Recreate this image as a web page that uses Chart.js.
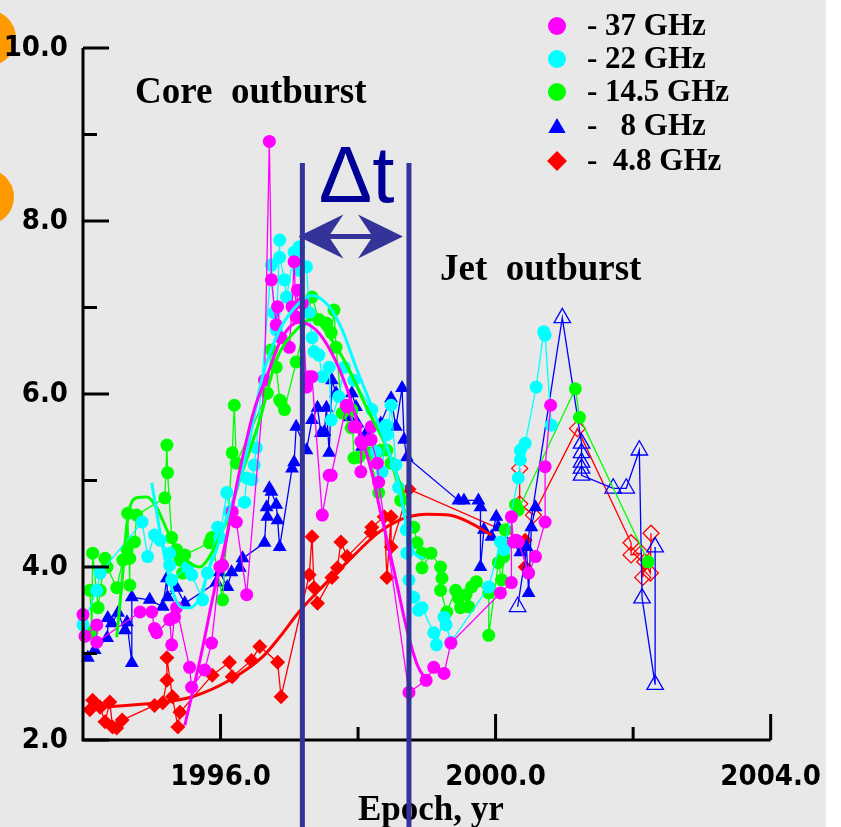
<!DOCTYPE html>
<html>
<head>
<meta charset="utf-8">
<title>Core and jet outburst light curves</title>
<script src="https://cdn.jsdelivr.net/npm/chart.js@4.4.1/dist/chart.umd.min.js"></script>
<style>
  html, body { margin: 0; padding: 0; background: #ffffff; }
  canvas { display: block; }
</style>
</head>
<body>
<canvas id="myCanvas" width="841" height="827"></canvas>
<script>
// flux density (Jy) vs epoch (yr)
const ghz37 = [
  [1994.00, 3.45], [1994.03, 3.20], [1994.20, 3.33], [1994.20, 3.13], [1994.83, 3.48],
  [1995.00, 3.48], [1995.04, 3.29], [1995.07, 3.24], [1995.26, 3.39], [1995.29, 3.10],
  [1995.33, 3.42], [1995.36, 3.53], [1995.55, 2.84], [1995.58, 2.61], [1995.77, 2.81],
  [1995.87, 3.12], [1995.99, 4.00], [1996.03, 4.02], [1996.17, 4.64], [1996.23, 4.52],
  [1996.38, 3.68], [1996.64, 6.16], [1996.71, 8.92], [1996.74, 7.32], [1996.81, 6.80],
  [1996.83, 7.01], [1996.88, 6.65], [1997.00, 6.54], [1997.04, 7.01], [1997.07, 7.53],
  [1997.10, 6.89], [1997.12, 7.20], [1997.19, 7.05], [1997.25, 6.08], [1997.29, 6.20],
  [1997.33, 6.20], [1997.48, 4.60], [1997.58, 5.06], [1997.61, 5.06], [1997.83, 5.87],
  [1997.84, 5.85], [1997.94, 5.62], [1997.97, 5.62], [1998.04, 5.45], [1998.04, 5.10],
  [1998.06, 5.43], [1998.19, 5.62], [1998.19, 5.47], [1998.28, 5.20], [1998.30, 4.98],
  [1998.74, 2.55], [1998.99, 2.69], [1999.10, 2.84], [1999.25, 2.77], [1999.35, 3.12],
  [2000.07, 3.70], [2000.23, 3.82], [2000.23, 4.58], [2000.26, 4.29], [2000.30, 4.31],
  [2000.33, 4.29], [2000.48, 3.93], [2000.58, 4.12], [2000.72, 4.52], [2000.72, 5.16],
  [2000.80, 5.87]
];

const ghz22 = [
  [1994.00, 3.33], [1994.20, 3.73], [1994.25, 3.93], [1994.86, 4.52], [1994.94, 4.12],
  [1995.04, 4.37], [1995.12, 4.31], [1995.26, 4.16], [1995.26, 4.02], [1995.29, 3.85],
  [1995.52, 4.00], [1995.58, 3.91], [1995.74, 3.62], [1995.81, 3.93], [1995.96, 4.46],
  [1995.99, 4.34], [1996.09, 4.86], [1996.13, 4.64], [1996.35, 4.75], [1996.38, 5.03],
  [1996.46, 5.01], [1996.49, 5.18], [1996.52, 5.38], [1996.74, 7.49], [1996.78, 6.94],
  [1996.81, 6.74], [1996.86, 7.78], [1996.86, 7.58], [1996.93, 7.32], [1996.96, 7.12],
  [1997.07, 7.64], [1997.14, 7.70], [1997.14, 7.43], [1997.25, 7.47], [1997.29, 6.94],
  [1997.33, 6.65], [1997.36, 6.49], [1997.43, 6.45], [1997.48, 6.20], [1997.58, 6.31],
  [1997.61, 5.70], [1997.72, 5.97], [1997.80, 6.31], [1997.94, 6.16], [1998.20, 5.82],
  [1998.26, 5.33], [1998.35, 5.10], [1998.41, 5.64], [1998.42, 5.53], [1998.48, 5.87],
  [1998.55, 5.18], [1998.59, 4.92], [1998.70, 4.43], [1998.71, 4.16], [1998.74, 3.85],
  [1998.81, 3.65], [1998.88, 3.50], [1998.93, 3.53], [1999.10, 3.24], [1999.14, 3.10],
  [1999.25, 3.42], [1999.28, 3.33], [1999.35, 3.13], [1999.90, 3.77], [2000.07, 4.29],
  [2000.12, 4.20], [2000.33, 5.03], [2000.36, 5.24], [2000.36, 5.35], [2000.43, 5.43],
  [2000.59, 6.08], [2000.70, 6.72], [2000.72, 6.68], [2000.81, 5.64]
];

const ghz14 = [
  [1994.10, 3.73], [1994.13, 3.25], [1994.14, 4.16], [1994.22, 3.53], [1994.25, 3.73],
  [1994.32, 4.10], [1994.35, 4.00], [1994.49, 3.76], [1994.58, 4.08], [1994.64, 4.20],
  [1994.65, 4.62], [1994.68, 3.79], [1994.68, 4.10], [1994.75, 4.29], [1994.78, 4.60],
  [1995.19, 4.80], [1995.22, 5.41], [1995.23, 5.09], [1995.29, 4.34], [1995.36, 4.20],
  [1995.41, 4.08], [1995.45, 3.93], [1995.48, 4.14], [1995.84, 4.28], [1995.87, 4.34],
  [1996.03, 3.62], [1996.17, 5.32], [1996.20, 5.87], [1996.23, 5.20], [1996.68, 6.01],
  [1996.74, 6.51], [1996.81, 6.31], [1996.86, 5.93], [1996.88, 5.91], [1996.93, 5.82],
  [1997.10, 6.37], [1997.33, 7.12], [1997.43, 6.86], [1997.54, 6.82], [1997.61, 6.71],
  [1997.65, 6.97], [1997.68, 6.54], [1997.77, 5.78], [1997.90, 5.61], [1997.91, 5.82],
  [1997.94, 5.26], [1998.01, 5.27], [1998.16, 5.32], [1998.30, 4.86], [1998.33, 5.35],
  [1998.42, 5.35], [1998.48, 5.20], [1998.62, 4.77], [1998.81, 4.46], [1998.86, 4.28],
  [1998.93, 4.16], [1998.93, 3.99], [1999.06, 4.16], [1999.20, 4.00], [1999.22, 3.87],
  [1999.20, 3.73], [1999.29, 3.48], [1999.42, 3.73], [1999.46, 3.64], [1999.49, 3.53],
  [1999.57, 3.68], [1999.61, 3.54], [1999.65, 3.77], [1999.72, 3.83], [1999.90, 3.70],
  [1999.90, 3.21], [2000.04, 4.05], [2000.09, 3.85], [2000.12, 4.12], [2000.14, 4.25],
  [2000.14, 4.43], [2000.29, 4.72], [2000.33, 4.66], [2001.16, 6.06], [2001.22, 5.73],
  [2002.22, 4.06]
];

const ghz8 = [
  [1994.07, 2.95], [1994.17, 3.04], [1994.35, 3.18], [1994.36, 3.41], [1994.42, 3.35],
  [1994.51, 3.47], [1994.61, 3.27], [1994.64, 3.36], [1994.71, 2.89], [1994.71, 3.65],
  [1994.97, 3.62], [1995.16, 3.54], [1995.22, 3.87], [1995.23, 3.65], [1995.36, 3.76],
  [1995.48, 3.58], [1995.94, 3.82], [1995.99, 3.94], [1996.10, 3.77], [1996.16, 3.94],
  [1996.28, 3.99], [1996.32, 4.10], [1996.64, 4.28], [1996.67, 4.69], [1996.68, 4.58],
  [1996.71, 4.91], [1996.74, 4.87], [1996.81, 4.72], [1996.83, 4.54], [1996.86, 4.23],
  [1997.04, 5.14], [1997.07, 5.21], [1997.10, 5.62], [1997.25, 5.35], [1997.33, 5.70],
  [1997.41, 5.84], [1997.46, 5.55], [1997.51, 5.56], [1997.54, 5.84], [1997.58, 5.32],
  [1997.62, 6.16], [1997.68, 6.01], [1997.87, 5.73], [1997.91, 6.01], [1997.97, 5.85],
  [1997.99, 5.66], [1998.06, 5.39], [1998.12, 5.55], [1998.33, 5.66], [1998.48, 5.95],
  [1998.55, 5.62], [1998.64, 6.07], [1998.67, 5.47], [1998.71, 5.27], [1999.46, 4.77],
  [1999.54, 4.77], [1999.75, 4.77], [1999.78, 4.69], [1999.78, 4.00], [1999.83, 4.43],
  [1999.94, 4.35], [2000.01, 4.58], [2000.04, 4.46], [2000.36, 4.17], [2000.45, 4.23],
  [2000.48, 3.70], [2000.52, 4.46], [2000.58, 4.69]
];

const ghz8Late = [
  [2000.32, 3.54], [2000.97, 6.88], [2001.25, 5.43], [2001.25, 5.32], [2001.25, 5.21],
  [2001.25, 5.14], [2001.25, 5.06], [2001.71, 4.91], [2001.90, 4.91], [2002.09, 5.35],
  [2002.13, 3.64], [2002.32, 2.64], [2002.32, 4.23]
];

const ghz4 = [
  [1994.10, 2.35], [1994.14, 2.46], [1994.25, 2.38], [1994.32, 2.21], [1994.39, 2.44],
  [1994.43, 2.15], [1994.49, 2.14], [1994.57, 2.23], [1995.04, 2.40], [1995.16, 2.43],
  [1995.22, 2.69], [1995.22, 2.95], [1995.30, 2.50], [1995.38, 2.15], [1995.41, 2.32],
  [1995.88, 2.75], [1996.13, 2.90], [1996.17, 2.73], [1996.45, 2.92], [1996.57, 3.08],
  [1996.83, 2.90], [1996.88, 2.50], [1997.29, 3.91], [1997.33, 4.35], [1997.36, 3.76],
  [1997.41, 3.58], [1997.62, 3.88], [1997.70, 3.99], [1997.75, 4.29], [1997.84, 4.12],
  [1998.19, 4.40], [1998.20, 4.46], [1998.38, 4.58], [1998.42, 3.88], [1998.48, 4.58],
  [1998.48, 4.23], [1998.74, 4.90], [2000.43, 4.31], [2000.43, 4.00]
];

const ghz4Late = [
  [2000.35, 5.14], [2000.35, 4.73], [2000.55, 4.60], [2001.19, 5.60], [2001.97, 4.28],
  [2001.97, 4.14], [2002.12, 4.16], [2002.14, 3.88], [2002.17, 4.06], [2002.25, 3.93],
  [2002.26, 4.39]
];

// smooth fits drawn through the outbursts
const fit37 = [
  [1995.48, 2.17], [1995.70, 2.92], [1995.91, 3.73], [1996.09, 4.35], [1996.28, 5.12],
  [1996.49, 5.82], [1996.67, 6.20], [1996.90, 6.66], [1997.14, 6.83], [1997.39, 6.74],
  [1997.62, 6.47], [1997.83, 6.08], [1998.01, 5.62], [1998.20, 5.09], [1998.33, 4.62],
  [1998.52, 3.97], [1998.70, 3.31], [1998.86, 2.87], [1998.99, 2.69]
];
const fit22 = [
  [1995.00, 4.97], [1995.07, 4.64], [1995.14, 4.31], [1995.30, 3.73], [1995.45, 3.53],
  [1995.55, 3.53], [1995.70, 3.65], [1995.81, 3.93], [1995.94, 4.20], [1996.03, 4.43],
  [1996.23, 4.89], [1996.38, 5.32], [1996.61, 6.20], [1996.86, 6.74], [1997.14, 7.05],
  [1997.33, 7.14], [1997.58, 7.01], [1997.77, 6.74], [1997.97, 6.31], [1998.20, 5.85],
  [1998.45, 5.32], [1998.59, 4.97], [1998.70, 4.49], [1998.81, 4.17], [1998.96, 4.10]
];
const fit14 = [
  [1994.49, 3.19], [1994.57, 3.85], [1994.64, 4.51], [1994.78, 4.80], [1994.93, 4.81],
  [1995.07, 4.69], [1995.22, 4.43], [1995.36, 4.20], [1995.55, 4.05], [1995.70, 4.00],
  [1995.84, 4.12], [1995.99, 4.35], [1996.13, 4.62], [1996.28, 5.01], [1996.57, 5.70],
  [1996.81, 6.39], [1997.10, 6.74], [1997.33, 6.86], [1997.62, 6.62], [1997.87, 6.28],
  [1998.12, 5.85], [1998.41, 5.39], [1998.59, 5.01], [1998.74, 4.66]
];
const fit4 = [
  [1994.10, 2.37], [1995.07, 2.43], [1995.59, 2.50], [1996.13, 2.69], [1996.61, 2.96],
  [1996.86, 3.19], [1997.14, 3.48], [1997.43, 3.73], [1997.87, 4.08], [1998.30, 4.40],
  [1998.59, 4.54], [1998.78, 4.59], [1998.99, 4.61], [1999.32, 4.60], [1999.61, 4.52],
  [1999.94, 4.37]
];

const legendLabels = ['- 37 GHz', '- 22 GHz', '- 14.5 GHz', '-   8 GHz', '-  4.8 GHz'];
const xMajorTicks = [1996, 2000, 2004];
const xMinorTicks = [1998, 2002];
const yMajorTicks = [2, 4, 6, 8, 10];
const yMinorTicks = [3, 5, 7, 9];

// delay marker: the two vertical lines (epochs), their top, and the arrow level (Jy)
const deltaT = [1997.19, 1998.74];
const deltaTop = 8.67;
const arrowLevel = 7.82;

const MAGENTA = '#ff00ff', CYAN = '#00ffff', GREEN = '#00ff00', BLUE = '#0000ff', RED = '#ff0000';

function xy(pts) {
  return pts.map(p => ({ x: p[0], y: p[1] }));
}

function series(label, pts, color, style, radius, order, open) {
  return {
    label: label,
    data: xy(pts),
    showLine: true,
    borderColor: color,
    borderWidth: 1.3,
    pointStyle: style,
    pointRadius: radius,
    pointBackgroundColor: open ? 'rgba(0,0,0,0)' : color,
    pointBorderColor: color,
    pointBorderWidth: open ? 1.3 : 0,
    tension: 0,
    order: order,
    clip: false
  };
}

function fit(pts, color, order) {
  return {
    data: xy(pts),
    showLine: true,
    borderColor: color,
    borderWidth: 3,
    pointRadius: 0,
    cubicInterpolationMode: 'monotone',
    order: order,
    clip: false
  };
}

const decor = {
  id: 'decor',
  beforeDraw(chart) {
    const ctx = chart.ctx;
    ctx.save();
    ctx.fillStyle = '#e8e8e8';
    ctx.fillRect(0, 0, 826, chart.height);
    ctx.fillStyle = '#ff9900';
    ctx.beginPath(); ctx.arc(-12, 38, 28, 0, Math.PI * 2); ctx.fill();
    ctx.beginPath(); ctx.arc(-14, 197, 28, 0, Math.PI * 2); ctx.fill();
    ctx.restore();
  },
  afterDraw(chart) {
    const ctx = chart.ctx;
    const xs = chart.scales.x, ys = chart.scales.y;
    ctx.save();

    // axes with inward ticks
    ctx.strokeStyle = '#000';
    ctx.lineWidth = 3;
    ctx.beginPath();
    ctx.moveTo(xs.left, ys.top);
    ctx.lineTo(xs.left, ys.bottom);
    ctx.lineTo(xs.right, ys.bottom);
    ctx.stroke();
    ctx.beginPath();
    yMajorTicks.concat(yMinorTicks).forEach(v => {
      const y = ys.getPixelForValue(v);
      const len = yMajorTicks.includes(v) ? 26 : 14;
      ctx.moveTo(xs.left, y);
      ctx.lineTo(xs.left + len, y);
    });
    xMajorTicks.concat(xMinorTicks).forEach(v => {
      const x = xs.getPixelForValue(v);
      const len = xMajorTicks.includes(v) ? 26 : 13;
      ctx.moveTo(x, ys.bottom);
      ctx.lineTo(x, ys.bottom - len);
    });
    ctx.stroke();

    // axis title
    ctx.fillStyle = '#000';
    ctx.font = 'bold 35px "Liberation Serif", "Times New Roman", serif';
    ctx.textAlign = 'center';
    ctx.textBaseline = 'alphabetic';
    ctx.fillText('Epoch, yr', (xs.left + xs.right) / 2 + 4, 820);

    // annotations
    ctx.textAlign = 'left';
    ctx.font = 'bold 37px "Liberation Serif", "Times New Roman", serif';
    ctx.fillText('Core  outburst', 135, 103);
    ctx.fillText('Jet  outburst', 440, 280);

    // delay lines and arrow
    const x1 = xs.getPixelForValue(deltaT[0]);
    const x2 = xs.getPixelForValue(deltaT[1]);
    const yTop = ys.getPixelForValue(deltaTop);
    const ya = ys.getPixelForValue(arrowLevel);
    ctx.strokeStyle = '#333399';
    ctx.lineWidth = 5;
    ctx.beginPath();
    ctx.moveTo(x1, yTop); ctx.lineTo(x1, chart.height);
    ctx.moveTo(x2, yTop); ctx.lineTo(x2, chart.height);
    ctx.stroke();

    const L = x1 - 4, R = x2 - 6;
    ctx.fillStyle = '#333399';
    ctx.beginPath();
    ctx.moveTo(L, ya);
    ctx.lineTo(L + 45, ya - 22);
    ctx.lineTo(L + 32, ya - 2.5);
    ctx.lineTo(R - 32, ya - 2.5);
    ctx.lineTo(R - 45, ya - 22);
    ctx.lineTo(R, ya);
    ctx.lineTo(R - 45, ya + 22);
    ctx.lineTo(R - 32, ya + 2.5);
    ctx.lineTo(L + 32, ya + 2.5);
    ctx.lineTo(L + 45, ya + 22);
    ctx.closePath();
    ctx.fill();

    ctx.fillStyle = '#000099';
    ctx.font = '80px "Liberation Sans", Arial, sans-serif';
    ctx.textAlign = 'center';
    ctx.fillText('\u0394t', (x1 + x2) / 2 + 1, 202);

    // legend
    const rows = [26, 59, 92, 126, 161];
    const markers = [
      { c: MAGENTA, s: 'circle' }, { c: CYAN, s: 'circle' }, { c: GREEN, s: 'circle' },
      { c: BLUE, s: 'triangle' }, { c: RED, s: 'rectRot' }
    ];
    markers.forEach((m, i) => {
      ctx.fillStyle = m.c;
      ctx.strokeStyle = m.c;
      ctx.lineWidth = 0.5;
      const r = m.s === 'circle' ? 9 : 10;
      Chart.helpers.drawPoint(ctx, { pointStyle: m.s, radius: r, borderWidth: 0 }, 557, rows[i] + (m.s === 'triangle' ? 2 : 0));
    });
    ctx.fillStyle = '#000';
    ctx.textAlign = 'left';
    ctx.textBaseline = 'middle';
    ctx.font = 'bold 31px "Liberation Serif", "Times New Roman", serif';
    legendLabels.forEach((t, i) => ctx.fillText(t, 587, rows[i] + 1));

    ctx.restore();
  }
};

new Chart(document.getElementById('myCanvas').getContext('2d'), {
  type: 'scatter',
  data: {
    datasets: [
      fit(fit37, MAGENTA, 0),
      fit(fit22, CYAN, 1),
      fit(fit14, GREEN, 2),
      fit(fit4, RED, 3),
      series('37 GHz', ghz37, MAGENTA, 'circle', 6.5, 4, false),
      series('22 GHz', ghz22, CYAN, 'circle', 6.5, 5, false),
      series('14.5 GHz', ghz14, GREEN, 'circle', 6.5, 6, false),
      series('8 GHz', ghz8, BLUE, 'triangle', 8, 7, false),
      series('8 GHz', ghz8Late, BLUE, 'triangle', 9.5, 8, true),
      series('4.8 GHz', ghz4, RED, 'rectRot', 7.5, 9, false),
      series('4.8 GHz', ghz4Late, RED, 'rectRot', 8, 10, true)
    ]
  },
  options: {
    responsive: false,
    devicePixelRatio: 1,
    animation: false,
    layout: { padding: { top: 48, right: 68, left: 0, bottom: 0 } },
    plugins: { legend: { display: false }, tooltip: { enabled: false } },
    scales: {
      x: {
        type: 'linear',
        min: 1994, max: 2004,
        afterFit(scale) { scale.height = 87; },
        grid: { display: false, drawTicks: false },
        border: { display: false },
        ticks: {
          stepSize: 2, autoSkip: false, maxRotation: 0, padding: 20, color: '#000',
          font: { family: '"DejaVu Sans Condensed", "DejaVu Sans", sans-serif', weight: 'bold', size: 29 },
          callback: v => (xMajorTicks.includes(v) ? v.toFixed(1) : '')
        }
      },
      y: {
        min: 2, max: 10,
        afterFit(scale) { scale.width = 83; },
        grid: { display: false, drawTicks: false },
        border: { display: false },
        ticks: {
          stepSize: 1, padding: 15, color: '#000',
          font: { family: '"DejaVu Sans Condensed", "DejaVu Sans", sans-serif', weight: 'bold', size: 29 },
          callback: v => (yMajorTicks.includes(v) ? v.toFixed(1) : '')
        }
      }
    }
  },
  plugins: [decor]
});
</script>
</body>
</html>
